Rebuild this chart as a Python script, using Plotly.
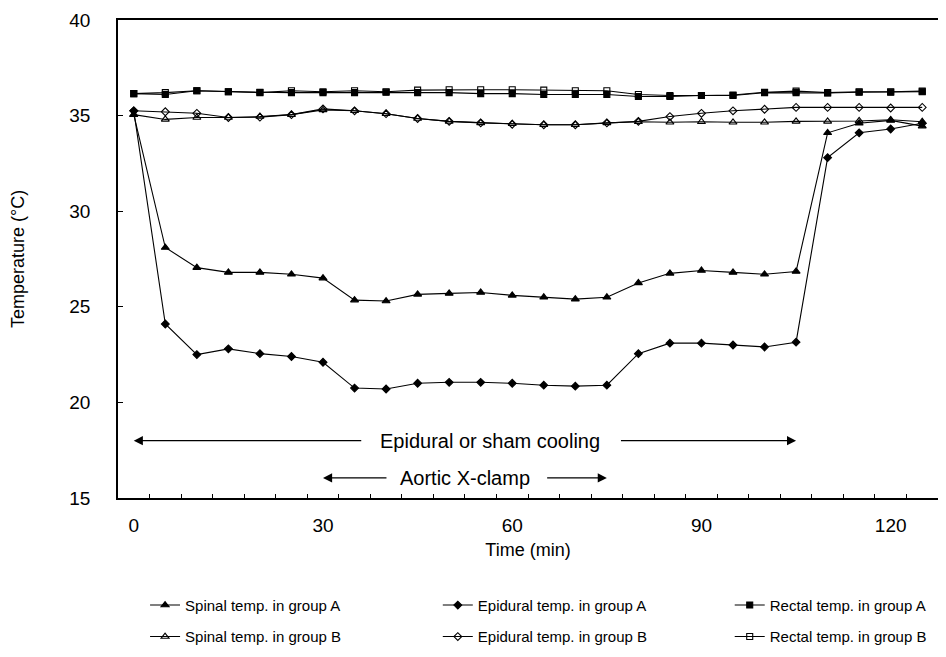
import plotly.graph_objects as go

# ---- data ----
time_min = [0, 5, 10, 15, 20, 25, 30, 35, 40, 45, 50, 55, 60, 65, 70, 75, 80, 85, 90, 95, 100, 105, 110, 115, 120, 125]

spinal_a = [35.05, 28.1, 27.05, 26.8, 26.8, 26.7, 26.5, 25.35, 25.3, 25.65, 25.7, 25.75, 25.6, 25.5,
            25.4, 25.5, 26.25, 26.75, 26.9, 26.8, 26.7, 26.85, 34.1, 34.6, 34.75, 34.45]
spinal_b = [35.05, 34.8, 34.9, 34.9, 34.95, 35.05, 35.3, 35.25, 35.1, 34.85, 34.7, 34.62, 34.57, 34.52,
            34.52, 34.62, 34.68, 34.65, 34.68, 34.65, 34.65, 34.7, 34.7, 34.72, 34.78, 34.68]
epidural_a = [35.25, 24.1, 22.5, 22.8, 22.55, 22.4, 22.1, 20.75, 20.7, 21.0, 21.05, 21.05, 21.0, 20.9,
              20.85, 20.9, 22.55, 23.1, 23.1, 23.0, 22.9, 23.15, 32.8, 34.1, 34.3, 34.6]
epidural_b = [35.25, 35.2, 35.12, 34.9, 34.92, 35.05, 35.35, 35.25, 35.1, 34.85, 34.7, 34.62, 34.55, 34.52,
              34.52, 34.62, 34.7, 34.95, 35.12, 35.25, 35.33, 35.43, 35.43, 35.43, 35.4, 35.43]
rectal_a = [36.15, 36.1, 36.3, 36.25, 36.22, 36.2, 36.2, 36.2, 36.22, 36.2, 36.2, 36.15, 36.15, 36.1,
            36.1, 36.1, 36.0, 36.0, 36.05, 36.05, 36.2, 36.2, 36.18, 36.22, 36.22, 36.25]
rectal_b = [36.15, 36.2, 36.3, 36.25, 36.2, 36.3, 36.25, 36.3, 36.25, 36.33, 36.35, 36.35, 36.35, 36.33,
            36.3, 36.3, 36.1, 36.05, 36.05, 36.08, 36.22, 36.28, 36.2, 36.25, 36.25, 36.28]

series_names = ["Spinal temp. in group A", "Spinal temp. in group B",
                "Epidural temp. in group A", "Epidural temp. in group B",
                "Rectal temp. in group A", "Rectal temp. in group B"]

x_tick_values = [0, 30, 60, 90, 120]
y_tick_values = [15, 20, 25, 30, 35, 40]

cooling_period = [0, 105]
clamp_period = [30, 75]

# ---- figure ----
FONT = "Liberation Sans, Arial, sans-serif"
fig = go.Figure()

styles = [
    (spinal_a, "triangle-up", 7, "legend"),
    (spinal_b, "triangle-up-open", 7, "legend"),
    (epidural_a, "diamond", 6, "legend2"),
    (epidural_b, "diamond-open", 6, "legend2"),
    (rectal_a, "square", 6, "legend3"),
    (rectal_b, "square-open", 6, "legend3"),
]
for name, (vals, sym, size, leg) in zip(series_names, styles):
    fig.add_trace(go.Scatter(
        x=time_min, y=vals, name=name, mode="lines+markers",
        line=dict(color="black", width=1.1),
        marker=dict(symbol=sym, size=size, color="black",
                    line=dict(color="black", width=1.1)),
        legend=leg, legendgroup=name,
    ))

# arrows
def period_arrow(period, text_center, gap_left, gap_right, yv, text):
    fig.add_annotation(x=period[0], y=yv, ax=gap_left, ay=yv, xref="x", yref="y",
                       axref="x", ayref="y", text="", showarrow=True,
                       arrowhead=2, arrowsize=1.4, arrowwidth=1.3, arrowcolor="black")
    fig.add_annotation(x=period[1], y=yv, ax=gap_right, ay=yv, xref="x", yref="y",
                       axref="x", ayref="y", text="", showarrow=True,
                       arrowhead=2, arrowsize=1.4, arrowwidth=1.3, arrowcolor="black")
    fig.add_annotation(x=text_center, y=yv, xref="x", yref="y", text=text, showarrow=False,
                       font=dict(family=FONT, size=20, color="black"))

period_arrow(cooling_period, 56.4, 36.3, 77.0, 18.0, "Epidural or sham cooling")
period_arrow(clamp_period, 52.5, 40.3, 65.3, 16.05, "Aortic X-clamp")

minor_ticks = [2.5 + 5 * i for i in range(26)]

fig.update_xaxes(
    range=[-2.5, 127.5], tickmode="array", tickvals=x_tick_values,
    ticks="", showgrid=False, zeroline=False,
    showline=True, linecolor="black", linewidth=1.5, mirror=True,
    tickfont=dict(family=FONT, size=19, color="black"), ticklabelstandoff=9,
    minor=dict(tickmode="array", tickvals=minor_ticks, ticks="inside", ticklen=4,
               tickcolor="black", tickwidth=1, showgrid=False),
    title=dict(text="Time (min)", font=dict(family=FONT, size=18, color="black"), standoff=9),
)
fig.update_yaxes(
    range=[15, 40], tickmode="array", tickvals=y_tick_values,
    ticks="inside", ticklen=5, tickcolor="black", showgrid=False, zeroline=False,
    showline=True, linecolor="black", linewidth=1.5, mirror=True,
    tickfont=dict(family=FONT, size=19, color="black"), ticklabelstandoff=22,
    title=dict(text="Temperature (°C)", font=dict(family=FONT, size=18, color="black"), standoff=40),
)

leg_common = dict(yref="paper", y=-0.19, yanchor="top", xanchor="left",
                  orientation="v", tracegroupgap=9, bgcolor="rgba(0,0,0,0)",
                  font=dict(family=FONT, size=15, color="black"), itemwidth=30)
fig.update_layout(
    width=946, height=657,
    margin=dict(l=110, r=16, t=12, b=167, autoexpand=False),
    paper_bgcolor="white", plot_bgcolor="white",
    showlegend=True,
    legend=dict(x=0.033, **leg_common),
    legend2=dict(x=0.390, **leg_common),
    legend3=dict(x=0.746, **leg_common),
)

fig.write_html("out.html")
